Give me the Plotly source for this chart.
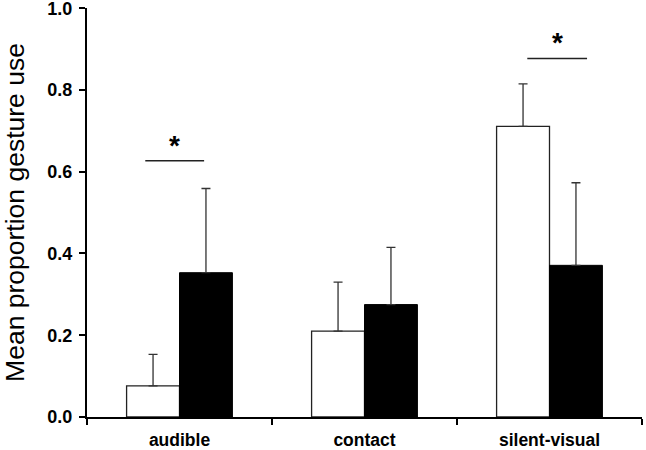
import plotly.graph_objects as go

categories = ["audible", "contact", "silent-visual"]
white_vals = [0.076, 0.210, 0.711]
white_err = [0.077, 0.120, 0.104]
black_vals = [0.353, 0.275, 0.371]
black_err = [0.206, 0.140, 0.202]
y_ticks = [0.0, 0.2, 0.4, 0.6, 0.8, 1.0]

# significance markers: (category index, left offset, right offset, y level)
sig_cat = [0, 2]
sig_left = [-0.185, -0.12]
sig_right = [0.133, 0.203]
sig_y = [0.627, 0.877]

FONT = "Liberation Sans, Arial"

fig = go.Figure()
fig.add_trace(go.Bar(
    x=categories, y=white_vals,
    marker=dict(color="white", line=dict(color="#222", width=1.3)),
    error_y=dict(type="data", symmetric=False, array=white_err,
                 arrayminus=[0] * 3, color="#333", thickness=1.3, width=4.5),
    showlegend=False,
))
fig.add_trace(go.Bar(
    x=categories, y=black_vals,
    marker=dict(color="black", line=dict(color="black", width=1)),
    error_y=dict(type="data", symmetric=False, array=black_err,
                 arrayminus=[0] * 3, color="#333", thickness=1.3, width=4.5),
    showlegend=False,
))

for c, l, r, y in zip(sig_cat, sig_left, sig_right, sig_y):
    fig.add_shape(type="line", xref="x", yref="y", x0=c + l, x1=c + r, y0=y, y1=y,
                  line=dict(color="#222", width=1.5))
    fig.add_annotation(x=c + (l + r) / 2, y=y, xref="x", yref="y", text="<b>*</b>",
                       showarrow=False, yanchor="bottom", yshift=-2,
                       font=dict(family=FONT, size=28, color="black"))

fig.update_layout(
    width=646, height=450,
    margin=dict(l=87, r=4, t=8, b=33, autoexpand=False),
    paper_bgcolor="white", plot_bgcolor="white",
    barmode="group", bargap=0.428, bargroupgap=0,
    font=dict(family=FONT, color="black"),
    xaxis=dict(
        showline=True, linecolor="black", linewidth=2,
        ticks="outside", ticklen=6, tickwidth=2, tickcolor="black",
        tickson="boundaries", automargin=False,
        tickfont=dict(size=17.5, family=FONT),
        tickvals=categories, ticktext=["<b>%s</b>" % c for c in categories],
        ticklabelstandoff=6, ticklabeloverflow="allow",
        showgrid=False,
    ),
    yaxis=dict(
        range=[0, 1.0005], showline=True, linecolor="black", linewidth=2,
        ticks="outside", ticklen=6, tickwidth=2, tickcolor="black",
        tickvals=y_ticks, ticktext=["<b>%.1f</b>" % v for v in y_ticks],
        tickfont=dict(size=18, family=FONT), automargin=False,
        ticklabelstandoff=3, ticklabeloverflow="allow",
        showgrid=False, zeroline=False,
        title=dict(text="Mean proportion gesture use",
                   font=dict(size=26.5, family=FONT), standoff=17),
    ),
)

fig.write_html("out.html", config={"displayModeBar": False},
               post_script="document.body.style.margin='0';")
